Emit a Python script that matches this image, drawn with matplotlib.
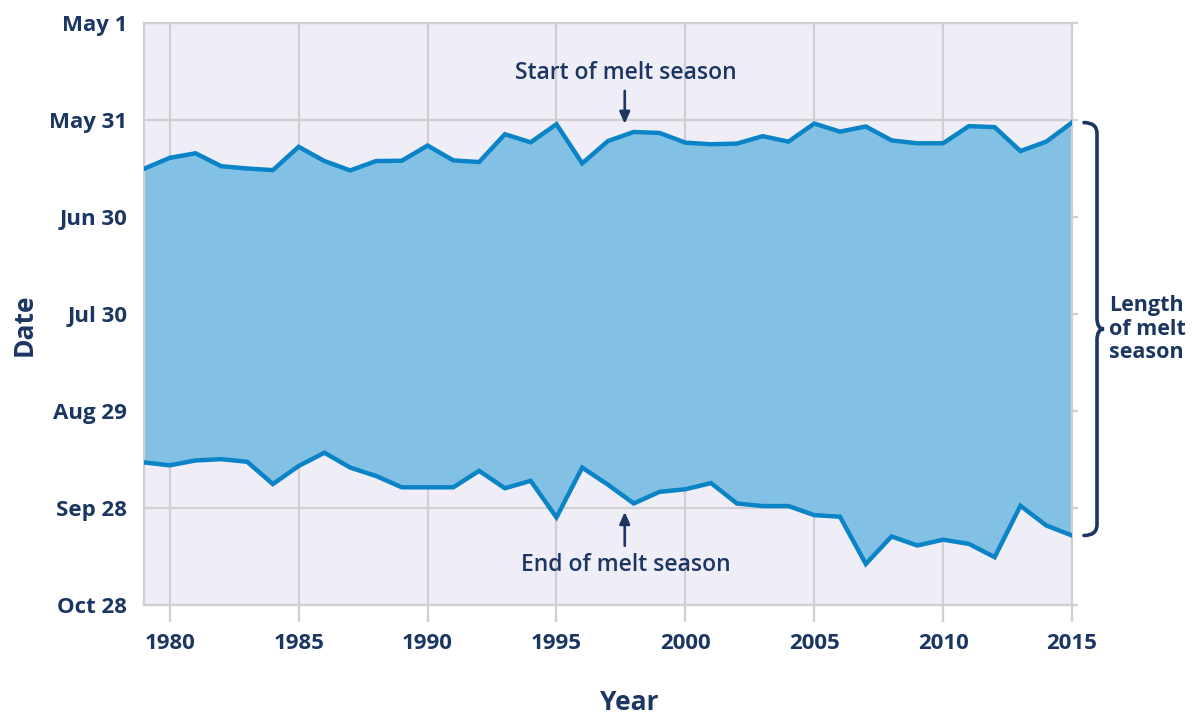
import matplotlib
matplotlib.use("Agg")
import matplotlib.pyplot as plt
import numpy as np
from matplotlib.path import Path
from matplotlib.patches import PathPatch

# Day-of-year (non-leap) of start and end of the Greenland melt season
years = list(range(1979, 2016))
start_doy = [166.1, 162.7, 161.3, 165.3, 166.0, 166.5, 159.3, 163.7, 166.6, 163.7,
             163.6, 158.9, 163.5, 164.0, 155.4, 157.9, 152.3, 164.4, 157.5, 154.7,
             155.0, 158.0, 158.5, 158.3, 156.0, 157.7, 152.1, 154.6, 153.0, 157.3,
             158.2, 158.2, 152.9, 153.2, 160.6, 157.7, 151.8]
end_doy = [256.9, 257.8, 256.3, 255.9, 256.7, 263.6, 258.0, 253.9, 258.5, 261.1,
           264.6, 264.6, 264.6, 259.5, 264.9, 262.6, 273.9, 258.5, 263.8, 269.6,
           266.0, 265.2, 263.3, 269.6, 270.4, 270.4, 273.2, 273.7, 288.3, 279.8,
           282.6, 280.8, 282.1, 286.2, 270.3, 276.4, 279.5]

date_ticks = [121, 151, 181, 211, 241, 271, 301]
date_labels = ["May 1", "May 31", "Jun 30", "Jul 30", "Aug 29", "Sep 28", "Oct 28"]
year_ticks = [1980, 1985, 1990, 1995, 2000, 2005, 2010, 2015]

NAVY = "#1b3662"
LINE = "#0a84c6"
FILL = "#82c1e4"
BG = "#efedf6"
GRID = "#cfcfd4"

plt.rcParams["font.family"] = ["Open Sans", "DejaVu Sans"]

fig = plt.figure(figsize=(11.92, 7.15), dpi=100)
ax = fig.add_axes([144 / 1192, 1 - 605 / 715, 928 / 1192, 582 / 715])
ax.set_facecolor(BG)

ax.fill_between(years, start_doy, end_doy, color=FILL, lw=0, zorder=2)
ax.plot(years, start_doy, color=LINE, lw=3.2, zorder=3, solid_joinstyle="miter")
ax.plot(years, end_doy, color=LINE, lw=3.2, zorder=3, solid_joinstyle="miter")

ax.set_xlim(1979, 2015)
ax.set_ylim(301, 121)
ax.set_xticks(year_ticks)
ax.set_xticklabels([str(y) for y in year_ticks])
ax.set_yticks(date_ticks)
ax.set_yticklabels(date_labels)
ax.grid(True, color=GRID, lw=1.6, zorder=1)
ax.set_axisbelow(True)
for s in ax.spines.values():
    s.set_color(GRID)
    s.set_linewidth(1.6)

ax.tick_params(axis="x", direction="out", length=12, width=1.6, color=GRID, pad=8,
               labelsize=16, labelcolor=NAVY)
ax.tick_params(axis="y", direction="out", length=4, width=1.6, color=GRID, pad=8,
               left=False, right=True, labelleft=True, labelright=False,
               labelsize=16, labelcolor=NAVY)
for lab in ax.get_xticklabels() + ax.get_yticklabels():
    lab.set_fontweight("bold")

fig.text(629 / 1192, 1 - 703 / 715, "Year", ha="center", va="center",
         fontsize=19, fontweight="bold", color=NAVY)
fig.text(24 / 1192, 1 - 325 / 715, "Date", ha="center", va="center", rotation=90,
         fontsize=19, fontweight="bold", color=NAVY)

# annotations
ax.text(1997.7, 136.5, "Start of melt season", ha="center", va="center",
        fontsize=16.5, fontweight="semibold", color=NAVY, zorder=5)
ax.annotate("", xy=(1997.65, 152.2), xytext=(1997.65, 142),
            arrowprops=dict(arrowstyle="-|>,head_length=0.5,head_width=0.22",
                            color=NAVY, lw=1.9, mutation_scale=14,
                            shrinkA=0, shrinkB=0), zorder=5)
ax.text(1997.7, 288.5, "End of melt season", ha="center", va="center",
        fontsize=16.5, fontweight="semibold", color=NAVY, zorder=5)
ax.annotate("", xy=(1997.65, 272.2), xytext=(1997.65, 282.7),
            arrowprops=dict(arrowstyle="-|>,head_length=0.5,head_width=0.22",
                            color=NAVY, lw=1.9, mutation_scale=14,
                            shrinkA=0, shrinkB=0), zorder=5)

# brace spanning the 2015 season
to_fig = fig.transFigure.inverted()
_, yt = ax.transData.transform((2015, start_doy[-1]))
_, yb = ax.transData.transform((2015, end_doy[-1]))
ym = (yt + yb) / 2
x0, xv, xt, r = 1084, 1097, 1104, 11
pts = [(x0, yt), (xv, yt), (xv, yt - r),
       (xv, ym + r), (xv, ym), (xt, ym),
       (xv, ym), (xv, ym - r),
       (xv, yb + r), (xv, yb), (x0, yb)]
codes = [Path.MOVETO, Path.CURVE3, Path.CURVE3,
         Path.LINETO, Path.CURVE3, Path.CURVE3,
         Path.CURVE3, Path.CURVE3,
         Path.LINETO, Path.CURVE3, Path.CURVE3]
brace = Path(to_fig.transform(pts), codes)
fig.patches.append(PathPatch(brace, transform=fig.transFigure, fill=False,
                             edgecolor=NAVY, lw=2.6, capstyle="round"))
fig.text(1109 / 1192, to_fig.transform((0, ym))[1], "Length\nof melt\nseason",
         ha="left", va="center", fontsize=15.5, fontweight="bold", color=NAVY,
         linespacing=1.18)

fig.savefig("out.png", dpi=100)
